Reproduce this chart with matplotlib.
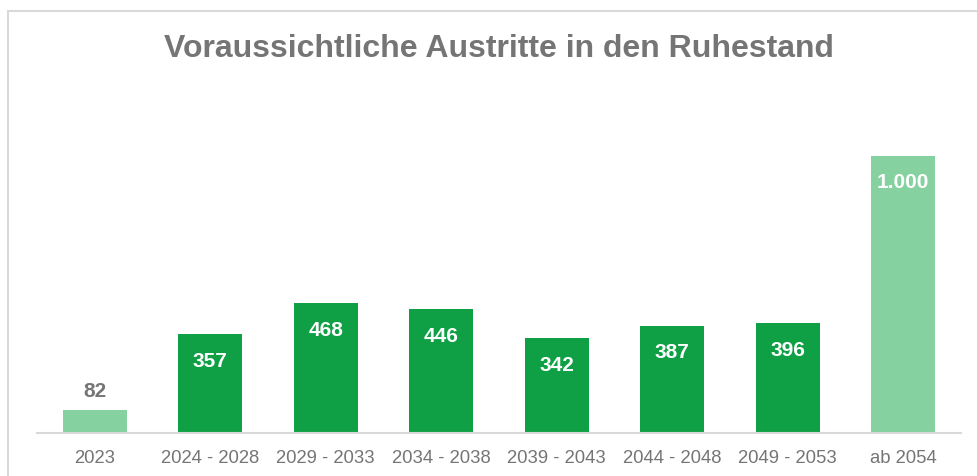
import matplotlib
matplotlib.use("Agg")
import matplotlib.pyplot as plt
from matplotlib.patches import Rectangle

plt.rcParams['font.family'] = ['Liberation Sans', 'DejaVu Sans']

categories = ["2023", "2024 - 2028", "2029 - 2033", "2034 - 2038",
              "2039 - 2043", "2044 - 2048", "2049 - 2053", "ab 2054"]
values = [82, 357, 468, 446, 342, 387, 396, 1000]
labels = ["82", "357", "468", "446", "342", "387", "396", "1.000"]
highlight = [True, False, False, False, False, False, False, True]

dark_green = "#0FA045"
light_green = "#86D1A0"
grey = "#757575"
line_grey = "#D9D9D9"

W, H = 978, 476
fig = plt.figure(figsize=(W / 100, H / 100), dpi=100)

# chart frame (runs off the right and bottom edge)
fig.patches.append(Rectangle((8 / W, -0.05), 1.0, (H - 11) / H + 0.05,
                             transform=fig.transFigure, fill=False,
                             edgecolor=line_grey, linewidth=1.5))

ax = fig.add_axes([37 / W, (H - 433) / H, (961 - 37) / W, (433 - 100) / H])
x = list(range(len(categories)))
colors = [light_green if h else dark_green for h in highlight]
ax.bar(x, values, width=0.555, color=colors, zorder=2)

ax.set_xlim(-0.5, len(categories) - 0.5)
ax.set_ylim(0, 1000 * 333 / 277)
ax.set_yticks([])
ax.set_xticks(x)
ax.set_xticklabels(categories, fontsize=13.3, color=grey)
ax.tick_params(axis="x", length=0, pad=12)
for s in ["top", "right", "left"]:
    ax.spines[s].set_visible(False)
ax.spines["bottom"].set_color(line_grey)
ax.spines["bottom"].set_linewidth(1.5)

for xi, v, lab in zip(x, values, labels):
    if v < 150:
        ax.annotate(lab, (xi, v), xytext=(0, 19 * 0.72), textcoords="offset points",
                    ha="center", va="center", fontsize=15, fontweight="bold", color=grey)
    else:
        ax.annotate(lab, (xi, v), xytext=(0, -27 * 0.72), textcoords="offset points",
                    ha="center", va="center", fontsize=15, fontweight="bold", color="white")

fig.text(499 / W, 1 - 49 / H, "Voraussichtliche Austritte in den Ruhestand",
         ha="center", va="center", fontsize=23, fontweight="bold", color=grey)

fig.savefig("out.png", dpi=100)
